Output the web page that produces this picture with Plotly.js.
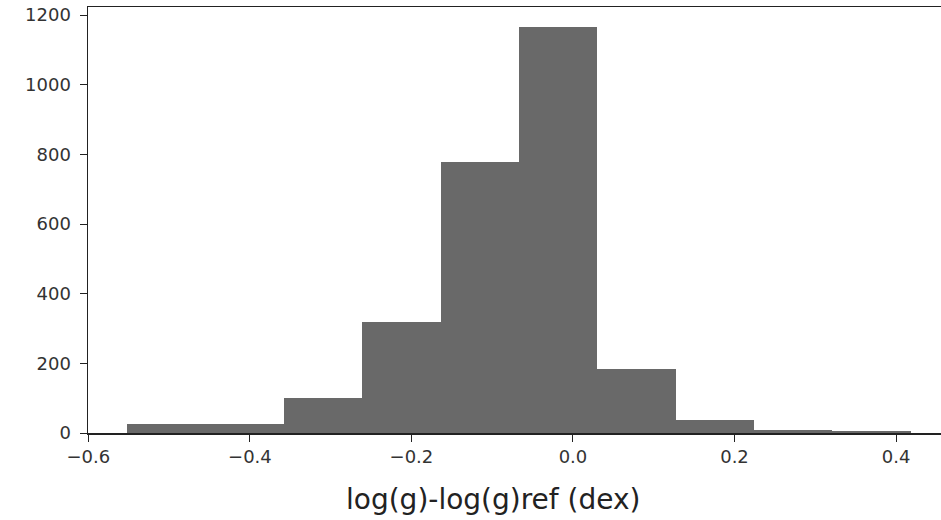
<!DOCTYPE html>
<html>
<head>
<meta charset="utf-8">
<script src="https://cdn.plot.ly/plotly-3.0.1.min.js"></script>
<style>html,body{margin:0;padding:0;background:#fff;overflow:hidden;}#chart{width:941px;height:520px;}</style>
</head>
<body>
<div id="chart"></div>
<script>
// Histogram bin edges (dex) and counts
const binEdges = [-0.552, -0.455, -0.358, -0.261, -0.164, -0.067, 0.030, 0.127, 0.224, 0.321, 0.418];
const counts = [27, 27, 101, 319, 777, 1165, 183, 36, 10, 5];
const xTickVals = [-0.6, -0.4, -0.2, 0.0, 0.2, 0.4];
const xTickText = ["\u22120.6", "\u22120.4", "\u22120.2", "0.0", "0.2", "0.4"];
const yTickVals = [0, 200, 400, 600, 800, 1000, 1200];
const xLabel = "log(g)-log(g)ref (dex)";

const centers = counts.map((c, i) => (binEdges[i] + binEdges[i + 1]) / 2);
const widths = counts.map((c, i) => binEdges[i + 1] - binEdges[i]);

const trace = {
  type: 'bar',
  x: centers,
  y: counts,
  width: widths,
  marker: {color: '#696969', line: {width: 0}},
  hoverinfo: 'x+y'
};

const tickFont = {family: 'DejaVu Sans, sans-serif', size: 18, color: '#333'};

const layout = {
  width: 941, height: 520,
  margin: {l: 88, r: 0, t: 7, b: 87},
  paper_bgcolor: '#fff', plot_bgcolor: '#fff',
  showlegend: false,
  bargap: 0,
  xaxis: {
    range: [-0.6005, 0.4557],
    tickvals: xTickVals, ticktext: xTickText,
    ticks: 'outside', ticklen: 7, tickwidth: 1, tickcolor: '#222',
    showline: true, linecolor: '#222', linewidth: 1.5, mirror: true,
    showgrid: false, zeroline: false,
    tickfont: tickFont
  },
  yaxis: {
    range: [0, 1223],
    tickvals: yTickVals,
    ticks: 'outside', ticklen: 7, tickwidth: 1, tickcolor: '#222',
    ticklabelstandoff: 5,
    showline: true, linecolor: '#222', linewidth: 1.5,
    showgrid: false, zeroline: false,
    tickfont: tickFont
  },
  annotations: [{
    text: xLabel, xref: 'paper', yref: 'paper',
    x: 0.475, y: -0.157, xanchor: 'center', yanchor: 'middle',
    showarrow: false,
    font: {family: 'DejaVu Sans, sans-serif', size: 28, color: '#222'}
  }]
};

Plotly.newPlot('chart', [trace], layout, {displayModeBar: false, staticPlot: true});
</script>
</body>
</html>
